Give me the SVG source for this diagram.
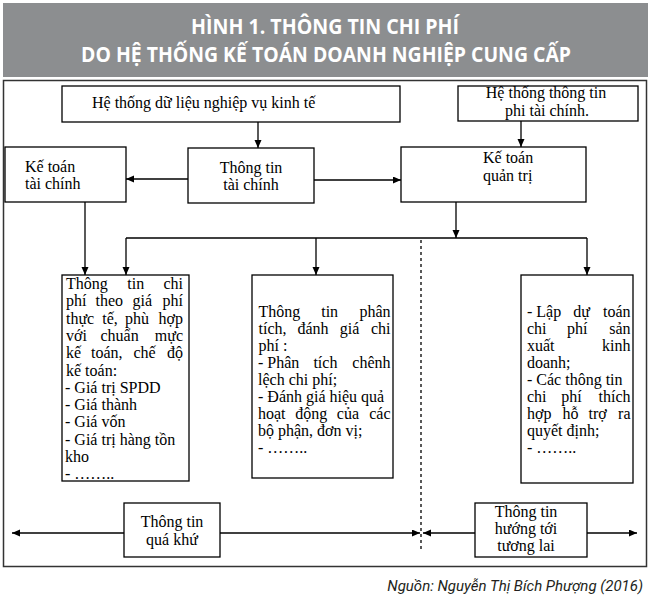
<svg xmlns="http://www.w3.org/2000/svg" width="651" height="602" viewBox="0 0 651 602">
<defs>
<marker id="ah" markerUnits="userSpaceOnUse" markerWidth="9" markerHeight="8" refX="8" refY="3.5" orient="auto">
<path d="M0,0 L8,3.5 L0,7 z" fill="#000"/>
</marker>
<style>
.box{fill:#fff;stroke:#000;stroke-width:1.3}
.t{font-family:"Liberation Serif","Times New Roman",serif;font-size:16px;fill:#000}
.b{font-family:"Liberation Serif","Times New Roman",serif;font-size:16px;fill:#000}
.e{text-anchor:end}
.m{text-anchor:middle}
.c{fill:none;stroke:#000;stroke-width:1.3}
.a{marker-end:url(#ah)}
.title{font-family:"Open Sans","Liberation Sans",sans-serif;font-weight:700;font-size:21px;fill:#fff;text-anchor:middle}
</style>
</defs>
<rect width="651" height="602" fill="#fff"/>
<rect x="3" y="3" width="645" height="74" fill="#8c8e90"/>
<text class="title" x="325" y="34" textLength="268" lengthAdjust="spacingAndGlyphs">HÌNH 1. THÔNG TIN CHI PHÍ</text>
<text class="title" x="326" y="62" textLength="490" lengthAdjust="spacingAndGlyphs">DO HỆ THỐNG KẾ TOÁN DOANH NGHIỆP CUNG CẤP</text>
<rect x="3.5" y="80.5" width="643" height="486" fill="none" stroke="#333" stroke-width="1.5"/>

<g id="connectors">
<path class="c a" d="M258,122 V148"/>
<path class="c a" d="M521,121 V147"/>
<path class="c a" d="M188,179 H126"/>
<path class="c a" d="M314,180 H401"/>
<path class="c a" d="M85,202 V275"/>
<path class="c a" d="M456,202 V238"/>
<path class="c" d="M126,238 H587"/>
<path class="c a" d="M126,238 V275"/>
<path class="c a" d="M316,238 V275"/>
<path class="c a" d="M587,238 V275"/>
<path class="c" d="M421,240 V552" stroke-dasharray="3,3"/>
<path class="c a" d="M124,533 H12"/>
<path class="c a" d="M220,533 H420"/>
<path class="c a" d="M475,533 H423"/>
<path class="c a" d="M587,533 H637"/>
</g>

<g id="n-htdl">
<rect class="box" x="62" y="86" width="338" height="36"/>
<text class="t" x="92" y="108">Hệ thống dữ liệu nghiệp vụ kinh tế</text>
</g>
<g id="n-httt">
<rect class="box" x="458" y="86" width="180" height="35"/>
<text class="t m" x="546" y="98">Hệ thống thông tin</text>
<text class="t m" x="547" y="116">phi tài chính.</text>
</g>
<g id="n-kttc">
<rect class="box" x="5" y="147" width="121" height="55"/>
<text class="t" x="25" y="172">Kế toán</text>
<text class="t" x="25" y="189">tài chính</text>
</g>
<g id="n-tttc">
<rect class="box" x="188" y="148" width="126" height="55"/>
<text class="t m" x="251" y="173">Thông tin</text>
<text class="t m" x="251" y="190">tài chính</text>
</g>
<g id="n-ktqt">
<rect class="box" x="401" y="147" width="185" height="55"/>
<text class="t" x="483" y="163">Kế toán</text>
<text class="t" x="483" y="181">quản trị</text>
</g>

<g id="n-b1">
<rect class="box" x="62" y="275" width="127" height="206"/>
<text class="b" x="66" y="289">Thông</text><text class="b" x="127.3" y="289">tin</text><text class="b e" x="183" y="289">chi</text>
<text class="b" x="66" y="306.3">phí</text><text class="b" x="95.5" y="306.3">theo</text><text class="b" x="132.6" y="306.3">giá</text><text class="b e" x="183" y="306.3">phí</text>
<text class="b" x="66" y="323.6">thực</text><text class="b" x="102.3" y="323.6">tế,</text><text class="b" x="125" y="323.6">phù</text><text class="b e" x="183" y="323.6">hợp</text>
<text class="b" x="66" y="340.9">với</text><text class="b" x="100.5" y="340.9">chuẩn</text><text class="b e" x="183" y="340.9">mực</text>
<text class="b" x="66" y="358.2">kế</text><text class="b" x="91" y="358.2">toán,</text><text class="b" x="133.5" y="358.2">chế</text><text class="b e" x="183" y="358.2">độ</text>
<text class="b" x="66" y="375.5">kế toán:</text>
<text class="b" x="65" y="392.8">- Giá trị SPDD</text>
<text class="b" x="65" y="410.1">- Giá thành</text>
<text class="b" x="65" y="427.4">- Giá vốn</text>
<text class="b" x="65" y="444.7">- Giá trị hàng tồn</text>
<text class="b" x="65" y="462">kho</text>
<text class="b" x="65" y="479">- ……..</text>
</g>

<g id="n-b2">
<rect class="box" x="252" y="275" width="141" height="203"/>
<text class="b" x="258.5" y="317">Thông</text><text class="b" x="321.2" y="317">tin</text><text class="b e" x="390.5" y="317">phân</text>
<text class="b" x="258.5" y="334">tích,</text><text class="b" x="297.5" y="334">đánh</text><text class="b" x="339.7" y="334">giá</text><text class="b e" x="390.5" y="334">chi</text>
<text class="b" x="258.5" y="351">phí :</text>
<text class="b" x="258" y="368">- Phân</text><text class="b" x="313.4" y="368">tích</text><text class="b e" x="390.5" y="368">chênh</text>
<text class="b" x="258" y="385">lệch chi phí;</text>
<text class="b" x="258" y="402">- Đánh giá hiệu quả</text>
<text class="b" x="258" y="419">hoạt</text><text class="b" x="295.3" y="419">động</text><text class="b" x="336.8" y="419">của</text><text class="b e" x="390.5" y="419">các</text>
<text class="b" x="258" y="436">bộ phận, đơn vị;</text>
<text class="b" x="258" y="453">- ……..</text>
</g>

<g id="n-b3">
<rect class="box" x="521" y="275" width="112" height="208"/>
<text class="b" x="527" y="317">- Lập</text><text class="b" x="573.3" y="317">dự</text><text class="b e" x="630.5" y="317">toán</text>
<text class="b" x="527" y="334">chi</text><text class="b" x="567" y="334">phí</text><text class="b e" x="630.5" y="334">sản</text>
<text class="b" x="527" y="351">xuất</text><text class="b e" x="630.5" y="351">kinh</text>
<text class="b" x="527" y="368">doanh;</text>
<text class="b" x="527" y="385">- Các thông tin</text>
<text class="b" x="527" y="402">chi</text><text class="b" x="561.3" y="402">phí</text><text class="b e" x="630.5" y="402">thích</text>
<text class="b" x="527" y="419">hợp</text><text class="b" x="562.5" y="419">hỗ</text><text class="b" x="588.6" y="419">trợ</text><text class="b e" x="630.5" y="419">ra</text>
<text class="b" x="527" y="436">quyết định;</text>
<text class="b" x="527" y="453">- ……..</text>
</g>

<g id="n-past">
<rect class="box" x="124" y="503" width="96" height="54"/>
<text class="t m" x="172" y="527">Thông tin</text>
<text class="t m" x="172" y="545">quá khứ</text>
</g>
<g id="n-future">
<rect class="box" x="475" y="503" width="112" height="54"/>
<text class="t m" x="526" y="517">Thông tin</text>
<text class="t m" x="526" y="534">hướng tới</text>
<text class="t m" x="526" y="551">tương lai</text>
</g>

<text x="643" y="591" text-anchor="end" font-family="Roboto,'Liberation Sans',sans-serif" font-style="italic" font-size="15" fill="#231f20">Nguồn: Nguyễn Thị Bích Phượng (2016)</text>
</svg>
